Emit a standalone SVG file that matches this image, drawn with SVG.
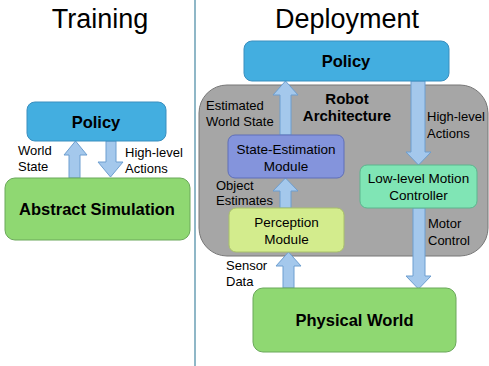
<svg xmlns="http://www.w3.org/2000/svg" width="489" height="366" viewBox="0 0 489 366">
<style>
text{font-family:"Liberation Sans",Arial,sans-serif;fill:#000}
.title{font-size:27px;text-anchor:middle}
.lbl{font-size:13px}
.bold{font-weight:bold;text-anchor:middle}
.mid{text-anchor:middle;font-size:13.5px}
.arrow{fill:#a4c8ec;stroke:#6d9ed0;stroke-width:1}
.box{stroke-width:1}
</style>
<rect width="489" height="366" fill="#fff"/>
<line x1="195" y1="0" x2="195" y2="366" stroke="#6a9fb5" stroke-width="1.5"/>
<text class="title" x="100" y="28">Training</text>
<text class="title" x="347" y="28">Deployment</text>

<g id="robot-architecture">
<rect x="199" y="85" width="289" height="171" rx="28" fill="#a6a6a6" stroke="#777" class="box"/>
<text class="bold" x="347" y="104" font-size="15">Robot</text>
<text class="bold" x="347" y="121" font-size="15">Architecture</text>
</g>

<g id="connectors">
<polygon class="arrow" points="69,178 69,155 64,155 75.5,141 87,155 80,155 80,178"/>
<polygon class="arrow" points="106,141 106,162 98,162 110.5,177 123,162 116,162 116,141"/>
<polygon class="arrow" points="280,135 280,95 273,95 285.5,81 298,95 291,95 291,135"/>
<polygon class="arrow" points="411,81 411,152 406,152 418.5,165 431,152 425,152 425,81"/>
<polygon class="arrow" points="280,208 280,191 273,191 285.5,178 298,191 291,191 291,208"/>
<polygon class="arrow" points="283,288 283,266 276,266 288.5,252 301,266 294,266 294,288"/>
<polygon class="arrow" points="413,208 413,276 406,276 418.5,289 431,276 425,276 425,208"/>
<text class="lbl" x="18" y="155">World</text>
<text class="lbl" x="18" y="171">State</text>
<text class="lbl" x="125" y="157">High-level</text>
<text class="lbl" x="125" y="173">Actions</text>
<text class="lbl" x="206" y="110">Estimated</text>
<text class="lbl" x="206" y="126">World State</text>
<text class="lbl" x="427" y="121">High-level</text>
<text class="lbl" x="427" y="138">Actions</text>
<text class="lbl" x="216" y="190">Object</text>
<text class="lbl" x="216" y="205">Estimates</text>
<text class="lbl" x="226" y="270">Sensor</text>
<text class="lbl" x="226" y="286">Data</text>
<text class="lbl" x="428" y="228">Motor</text>
<text class="lbl" x="428" y="245">Control</text>
</g>

<g id="policy-training">
<rect x="27" y="102" width="139" height="39" rx="8" fill="#43aee0" stroke="#3a8fbf" class="box"/>
<text class="bold" x="96" y="128" font-size="16.5">Policy</text>
</g>
<g id="abstract-simulation">
<rect x="5" y="178" width="185" height="62" rx="10" fill="#8fd872" stroke="#6aa85a" class="box"/>
<text class="bold" x="97" y="215" font-size="16.5">Abstract Simulation</text>
</g>
<g id="policy-deployment">
<rect x="244" y="41" width="205" height="40" rx="8" fill="#43aee0" stroke="#3a8fbf" class="box"/>
<text class="bold" x="346" y="67" font-size="16.5">Policy</text>
</g>
<g id="state-estimation">
<rect x="228" y="135" width="116" height="43" rx="7" fill="#8494dc" stroke="#5f6fb8" class="box"/>
<text class="mid" x="286" y="154">State-Estimation</text>
<text class="mid" x="286" y="171">Module</text>
</g>
<g id="low-level-controller">
<rect x="360" y="165" width="117" height="43" rx="7" fill="#80e5b5" stroke="#5cb58e" class="box"/>
<text class="mid" x="418.5" y="183">Low-level Motion</text>
<text class="mid" x="418.5" y="200">Controller</text>
</g>
<g id="perception">
<rect x="229" y="208" width="115" height="44" rx="7" fill="#d3ec8d" stroke="#a8c06a" class="box"/>
<text class="mid" x="286.5" y="227">Perception</text>
<text class="mid" x="286.5" y="244">Module</text>
</g>
<g id="physical-world">
<rect x="253" y="288" width="203" height="64" rx="10" fill="#8fd872" stroke="#6aa85a" class="box"/>
<text class="bold" x="354.5" y="326" font-size="16.5">Physical World</text>
</g>
</svg>
